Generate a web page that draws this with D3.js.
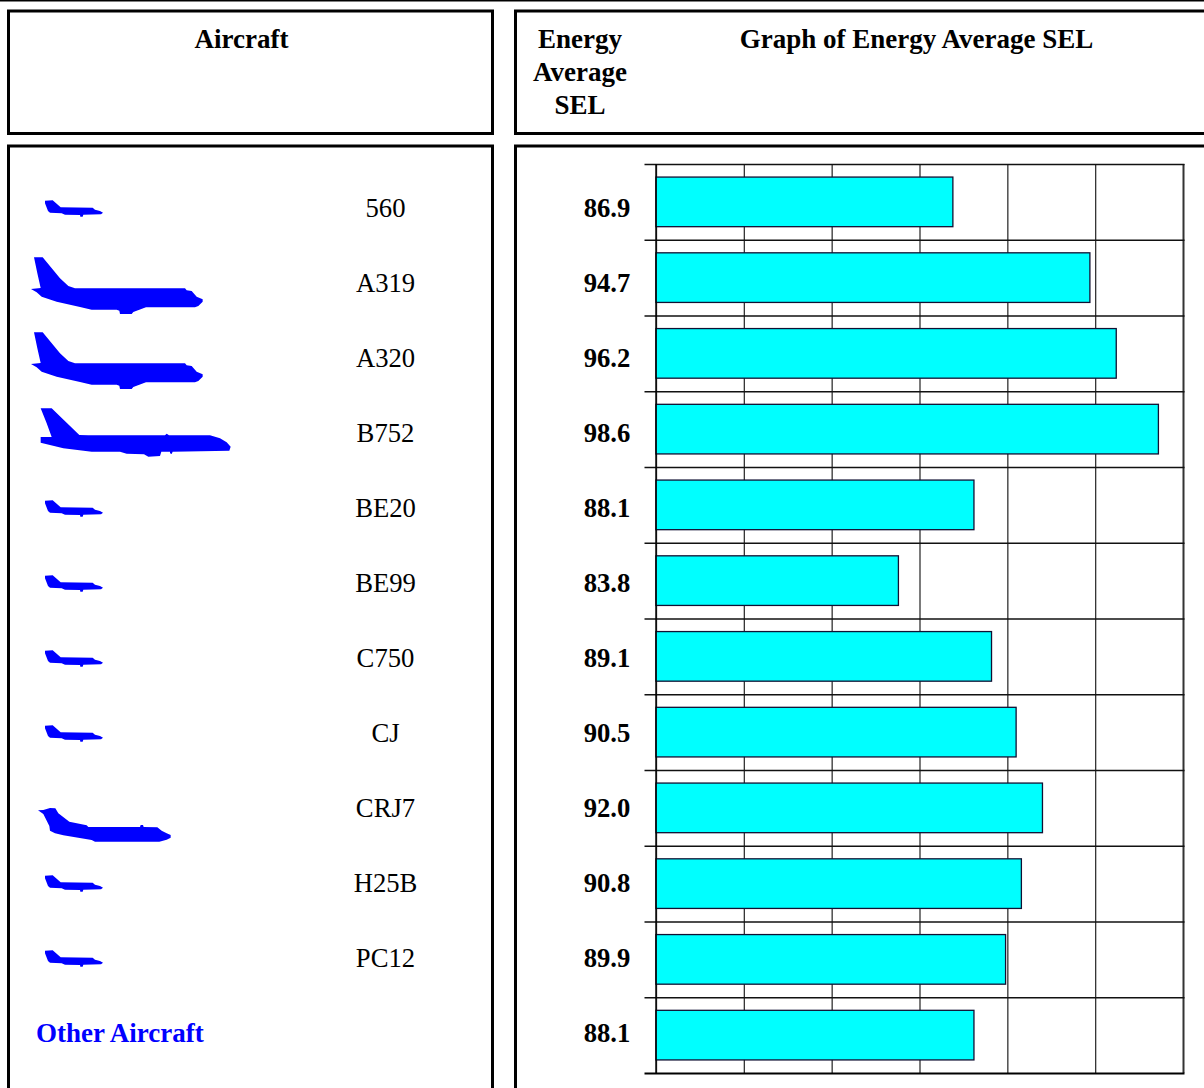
<!DOCTYPE html>
<html><head><meta charset="utf-8">
<script src="https://cdn.jsdelivr.net/npm/d3@7/dist/d3.min.js"></script>
<style>html,body{margin:0;padding:0;background:#fff;overflow:hidden}svg{display:block}
text{font-family:"Liberation Serif","Times New Roman",serif;font-size:26.67px;fill:#000}</style>
</head><body><svg id="c" width="1204" height="1088"></svg>
<script>
const categories=["560","A319","A320","B752","BE20","BE99","C750","CJ","CRJ7","H25B","PC12","Other Aircraft"];
const selValues=[86.9,94.7,96.2,98.6,88.1,83.8,89.1,90.5,92.0,90.8,89.9,88.1];
const iconKinds=["small","a320","a320","b752","small","small","small","small","crj","small","small",null];
const xTicks=[70,75,80,85,90,95,100];
const headerLines=["Energy","Average","SEL"];

const icons={
 small:{dx:20,dy:-28,p:[[75,62],[98,61],[122,82],[218,83],[225,89],[240,93],[249,98],[243,103],[190,104],[188,110],[181,110],[180,105],[135,104],[125,100],[90,98],[84,93],[75,70]]},
 a320:{dx:20,dy:-103,p:[[42,232],[68,232],[120,295],[145,318],[165,325],[495,325],[500,331],[515,333],[530,350],[548,358],[548,365],[535,378],[525,382],[378,382],[340,396],[335,402],[300,402],[298,392],[290,389],[215,389],[180,381],[110,365],[65,350],[50,337],[33,327],[62,324],[52,280]]},
 b752:{dx:20,dy:-38,p:[[62,40],[95,40],[178,120],[205,121],[435,121],[440,116],[447,121],[570,121],[600,130],[620,142],[632,155],[628,167],[458,170],[455,177],[450,175],[450,170],[424,170],[420,183],[385,185],[372,178],[320,176],[300,170],[215,170],[130,160],[62,143],[62,126],[95,126],[80,85]]},
 crj:{dx:20,dy:-18,p:[[54,61],[70,60],[90,54],[106,55],[115,70],[148,95],[200,106],[205,111],[360,111],[362,105],[369,105],[371,111],[412,112],[425,122],[440,130],[452,135],[452,143],[440,149],[418,155],[225,155],[215,150],[130,136],[105,130],[90,122],[88,108],[70,72]]}
};

const svg=d3.select("#c");
svg.append("line").attr("x1",0).attr("x2",1204).attr("y1",0.5).attr("y2",0.5).attr("stroke","#000").attr("stroke-width",2);

// frames
[[8.5,11,484,122.5],[515.5,11,700,122.5],[8.5,146,484,960],[515.5,146,700,960]].forEach(b=>{
 svg.append("rect").attr("x",b[0]).attr("y",b[1]).attr("width",b[2]).attr("height",b[3])
  .attr("fill","none").attr("stroke","#000").attr("stroke-width",3);
});

// headers
const bold=(s,x,y,col)=>svg.append("text").text(s).attr("x",x).attr("y",y).attr("text-anchor","middle").attr("font-weight","bold").style("font-size","27px").attr("fill",col||"#000");
bold("Aircraft",241.5,48);
headerLines.forEach((t,i)=>bold(t,580,48+i*33));
bold("Graph of Energy Average SEL",916.5,48);

// scales
const x=d3.scaleLinear().domain([70,100]).range([656,1183]);
const pad=0.345;
const yBand=d3.scaleBand().domain(categories).range([164,1073]).paddingInner(pad).paddingOuter(pad/2);
const rowEdge=d3.scaleLinear().domain([0,categories.length]).range([164,1073]);
const rowText=d3.scalePoint().domain(categories).range([208,1033]);

// grid verticals
const gx=svg.append("g").attr("transform","translate(0,1073)")
 .call(d3.axisBottom(x).tickValues(xTicks).tickSize(-909).tickFormat(""));
gx.select(".domain").remove();
gx.selectAll("line").attr("stroke","#333").attr("stroke-width",1.3);
gx.selectAll("g.tick:last-of-type line").attr("stroke-width",2);

// grid horizontals with left ticks
const gy=svg.append("g").attr("transform","translate(1184.5,0)")
 .call(d3.axisLeft(rowEdge).tickValues(d3.range(categories.length+1)).tickSize(540).tickFormat(""));
gy.select(".domain").remove();
gy.selectAll("line").attr("stroke","#111").attr("stroke-width",1.4);
gy.selectAll("g.tick:last-of-type line").attr("stroke","#000").attr("stroke-width",2);

// bars
const bars=d3.range(categories.length);
svg.append("g").selectAll("rect").data(bars).join("rect")
 .attr("x",x(70)).attr("y",i=>yBand(categories[i]))
 .attr("width",i=>x(selValues[i])-x(70)).attr("height",yBand.bandwidth())
 .attr("fill","#00ffff").attr("stroke","#113").attr("stroke-width",1.3);

// y axis line
svg.append("line").attr("x1",x(70)).attr("x2",x(70)).attr("y1",164).attr("y2",1073).attr("stroke","#000").attr("stroke-width",1.4);

// values
svg.append("g").selectAll("text").data(bars).join("text")
 .attr("x",607).attr("y",i=>rowText(categories[i])+9).attr("text-anchor","middle").attr("font-weight","bold")
 .text(i=>selValues[i].toFixed(1));

// labels
svg.append("g").selectAll("text").data(bars.slice(0,11)).join("text")
 .attr("x",385.5).attr("y",i=>rowText(categories[i])+9).attr("text-anchor","middle")
 .text(i=>categories[i]);
svg.append("text").text(categories[11]).attr("x",36).attr("y",rowText(categories[11])+9)
 .attr("font-weight","bold").style("font-size","27px").style("fill","#0000ff");

// icons
const line=d3.line().curve(d3.curveLinearClosed);
bars.filter(i=>iconKinds[i]).forEach(i=>{
 const k=icons[iconKinds[i]];
 svg.append("path").attr("d",line(k.p)).attr("fill","#0000ff")
  .attr("transform",`translate(${k.dx},${rowText(categories[i])+k.dy}) scale(${1/3})`);
});
</script></body></html>
